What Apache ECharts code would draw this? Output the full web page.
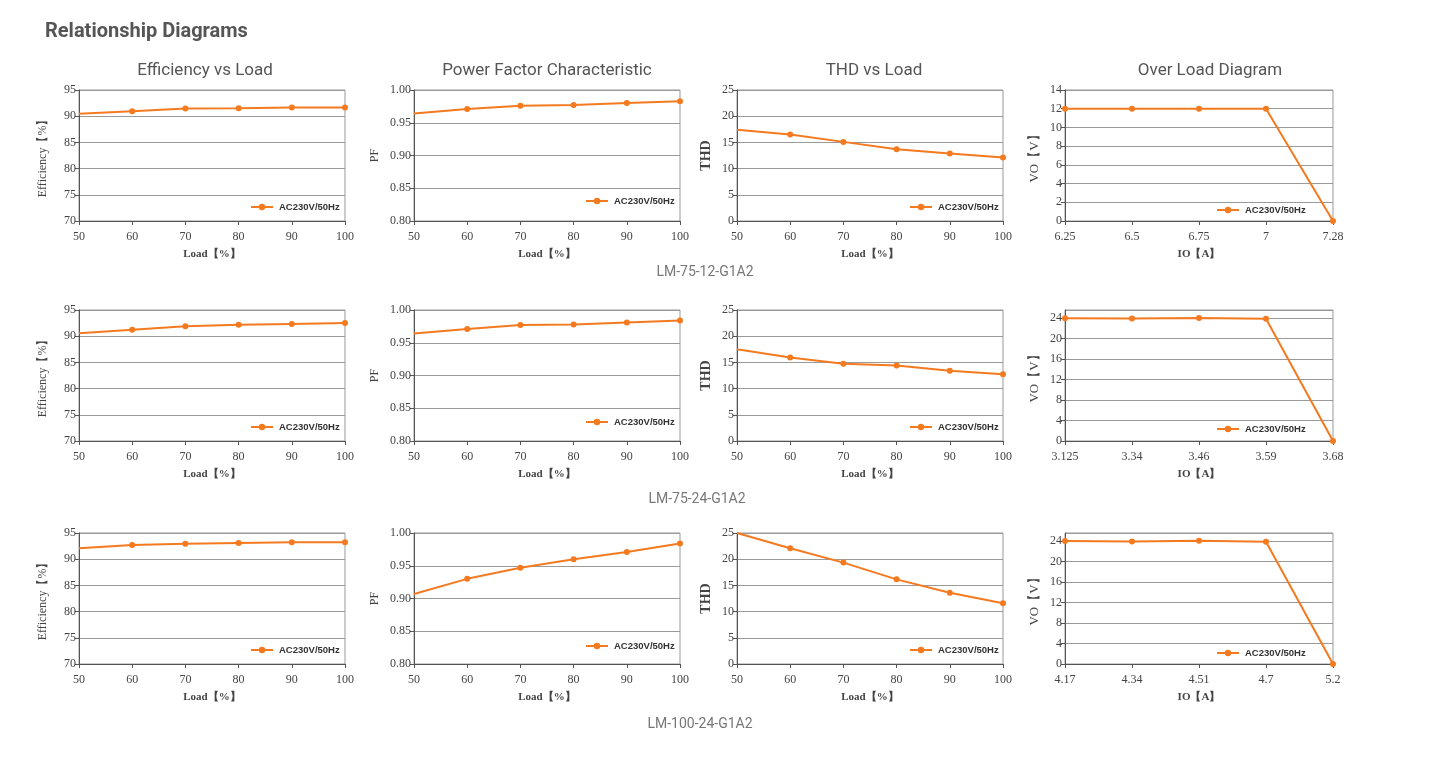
<!DOCTYPE html>
<html>
<head>
<meta charset="utf-8">
<script src="https://cdn.jsdelivr.net/npm/echarts@6/dist/echarts.min.js"></script>
<style>
html,body{margin:0;padding:0;background:#fff;}
#c{width:1453px;height:771px;}
</style>
</head>
<body>
<div id="c"></div>
<script>
// ---------- DATA ----------
const loadX = [50, 60, 70, 80, 90, 100];
const seriesName = 'AC230V/50Hz';

const models = ['LM-75-12-G1A2', 'LM-75-24-G1A2', 'LM-100-24-G1A2'];
const chartTitles = ['Efficiency vs Load', 'Power Factor Characteristic', 'THD vs Load', 'Over Load Diagram'];

const effR1 = [90.45, 90.96, 91.47, 91.54, 91.67, 91.67];
const pfR1  = [0.964, 0.971, 0.976, 0.977, 0.980, 0.983];
const thdR1 = [17.4, 16.5, 15.1, 13.7, 12.9, 12.1];
const ioR1  = ['6.25', '6.5', '6.75', '7', '7.28'];
const voR1  = [12.0, 12.0, 12.0, 12.0, 0];

const effR2 = [90.55, 91.25, 91.9, 92.2, 92.35, 92.5];
const pfR2  = [0.964, 0.971, 0.977, 0.978, 0.981, 0.984];
const thdR2 = [17.5, 15.95, 14.75, 14.4, 13.4, 12.75];
const ioR2  = ['3.125', '3.34', '3.46', '3.59', '3.68'];
const voR2  = [24.0, 23.95, 24.05, 23.9, 0];

const effR3 = [92.1, 92.7, 92.95, 93.1, 93.25, 93.25];
const pfR3  = [0.907, 0.930, 0.947, 0.960, 0.971, 0.984];
const thdR3 = [25.0, 22.1, 19.35, 16.15, 13.6, 11.6];
const ioR3  = ['4.17', '4.34', '4.51', '4.7', '5.2'];
const voR3  = [24.05, 23.95, 24.1, 23.9, 0];

// ---------- LAYOUT ----------
const colLeft  = [79, 414, 737, 1065];
const colRight = [345, 680, 1003, 1333];
const rowTop   = [90, 310, 533];
const rowBot   = [221, 441, 664];
const titleCenters = [205, 547, 874, 1210];
const modelCenters = [705, 697, 700];
const modelY = [265, 492, 717];
const legendPos = [
  [[250, 202], [585, 196], [909, 202], [1216, 205]],
  [[250, 422], [585, 417], [909, 422], [1216, 424]],
  [[250, 645], [585, 641], [909, 645], [1216, 648]]
];

const ORANGE = '#F47A20';
const serif = '"Liberation Serif", "DejaVu Serif", serif';
const sans = '"Liberation Sans", Arial, sans-serif';
const titleFont = 'Roboto, "Open Sans", sans-serif';

const rows = [
  {eff: effR1, pf: pfR1, thd: thdR1, io: ioR1, vo: voR1, voMax: 14, voInt: 2},
  {eff: effR2, pf: pfR2, thd: thdR2, io: ioR2, vo: voR2, voMax: 25.6, voInt: 4},
  {eff: effR3, pf: pfR3, thd: thdR3, io: ioR3, vo: voR3, voMax: 25.6, voInt: 4}
];

const grids = [], xAxes = [], yAxes = [], series = [], legends = [];
const titles = [
  {text: 'Relationship Diagrams', left: 40, top: 17,
   textStyle: {fontFamily: titleFont, fontWeight: 'bold', fontSize: 20, color: '#555'}}
];
chartTitles.forEach((t, c) => {
  titles.push({text: t, left: titleCenters[c], top: 62, textAlign: 'center', padding: 0,
    textStyle: {fontFamily: titleFont, fontWeight: 'normal', fontSize: 17, color: '#555'}});
});
models.forEach((m, r) => {
  titles.push({text: m, left: modelCenters[r], top: modelY[r], textAlign: 'center', padding: 0,
    textStyle: {fontFamily: titleFont, fontWeight: 'normal', fontSize: 14, color: '#777'}});
});

const axisLabelStyle = {fontFamily: serif, fontSize: 12, color: '#444'};
const nameStyle = {fontFamily: serif, fontSize: 11, fontWeight: 'bold', color: '#444'};

function addChart(r, c, cfg) {
  const gi = grids.length;
  grids.push({
    left: colLeft[c], top: rowTop[r], width: colRight[c] - colLeft[c], height: rowBot[r] - rowTop[r],
    show: true, borderColor: '#999', borderWidth: 1, containLabel: false
  });
  const xa = {
    gridIndex: gi,
    name: cfg.xName, nameLocation: 'middle', nameGap: 28,
    nameTextStyle: nameStyle,
    axisLine: {show: true, lineStyle: {color: '#555', width: 1}},
    axisTick: {show: true, length: 4, lineStyle: {color: '#555'}},
    axisLabel: Object.assign({margin: 10}, axisLabelStyle),
    splitLine: {show: false}
  };
  if (cfg.cats) {
    Object.assign(xa, {type: 'category', data: cfg.cats, boundaryGap: false,
      axisTick: {show: true, alignWithLabel: true, length: 4, lineStyle: {color: '#555'}}});
  } else {
    Object.assign(xa, {type: 'value', min: 50, max: 100, interval: 10});
  }
  xAxes.push(xa);
  yAxes.push({
    gridIndex: gi, type: 'value', min: cfg.min, max: cfg.max, interval: cfg.interval,
    name: cfg.yName, nameLocation: 'middle', nameGap: cfg.nameGap, nameRotate: 90,
    nameTextStyle: Object.assign({}, nameStyle, cfg.nameStyle || {}),
    axisLine: {show: true, lineStyle: {color: '#555', width: 1}},
    axisTick: {show: true, length: 4, lineStyle: {color: '#555'}},
    axisLabel: Object.assign({margin: 3, showMaxLabel: cfg.showMax !== false,
      formatter: cfg.fmt || (v => String(v))}, axisLabelStyle),
    splitLine: {show: true, lineStyle: {color: '#9a9a9a', width: 1}}
  });
  let data;
  if (cfg.cats) {
    data = cfg.values.slice();
  } else {
    data = loadX.map((x, i) => i === 0 ? {value: [x, cfg.values[i]], symbol: 'none'} : [x, cfg.values[i]]);
  }
  series.push({
    name: seriesName, type: 'line', xAxisIndex: gi, yAxisIndex: gi,
    data: data, symbol: 'circle', symbolSize: 6, showSymbol: true,
    lineStyle: {color: ORANGE, width: 2}, itemStyle: {color: ORANGE},
    clip: false, animation: false
  });
  const lp = legendPos[r][c];
  legends.push({
    data: [seriesName], left: lp[0], top: lp[1], padding: 0, itemGap: 4,
    itemWidth: 22, itemHeight: 8, selectedMode: false,
    textStyle: {fontFamily: sans, fontSize: 9.5, fontWeight: 'bold', color: '#333', padding: [0, 0, 0, 1]}
  });
}

rows.forEach((d, r) => {
  addChart(r, 0, {values: d.eff, min: 70, max: 95, interval: 5, yName: 'Efficiency【%】', xName: 'Load【%】', nameGap: 30,
    nameStyle: {fontWeight: 'normal', fontSize: 12}});
  addChart(r, 1, {values: d.pf, min: 0.8, max: 1.0, interval: 0.05, yName: 'PF', xName: 'Load【%】', nameGap: 33,
    fmt: v => v.toFixed(2), nameStyle: {fontWeight: 'normal', fontSize: 12}});
  addChart(r, 2, {values: d.thd, min: 0, max: 25, interval: 5, yName: 'THD', xName: 'Load【%】', nameGap: 24,
    nameStyle: {fontSize: 14}});
  addChart(r, 3, {values: d.vo, cats: d.io, min: 0, max: d.voMax, interval: d.voInt, yName: 'VO【V】', xName: 'IO【A】',
    nameGap: 24, nameStyle: {fontSize: 13, fontWeight: 'normal'}, showMax: d.voMax === 14});
});

const chart = echarts.init(document.getElementById('c'), null, {renderer: 'canvas'});
chart.setOption({
  backgroundColor: '#fff',
  animation: false,
  title: titles,
  legend: legends,
  grid: grids,
  xAxis: xAxes,
  yAxis: yAxes,
  series: series
});
</script>
</body>
</html>
